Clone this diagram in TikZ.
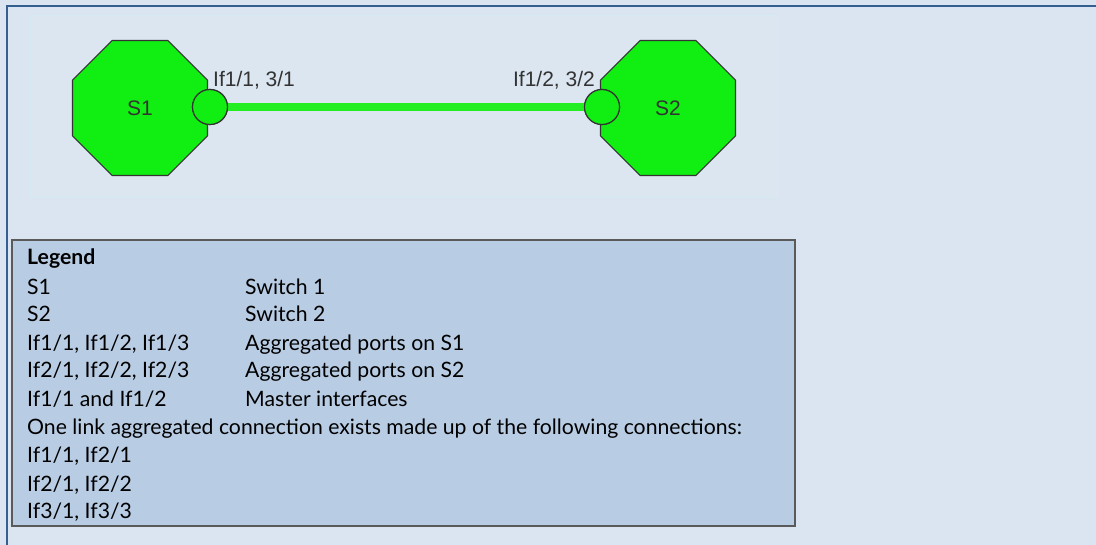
\documentclass[tikz,border=0pt]{standalone}
\usepackage{fontspec}
\setmainfont{Liberation Sans}
\newfontfamily\legendfont{Lato}
\usetikzlibrary{shapes.geometric}
\definecolor{pagebg}{HTML}{DBE5F1}
\definecolor{picbg}{HTML}{DCE6F1}
\definecolor{picline}{HTML}{D6EAF2}
\definecolor{framebl}{HTML}{365F91}
\definecolor{swgreen}{HTML}{11EE11}
\definecolor{linkgreen}{HTML}{22EE22}
\definecolor{legbg}{HTML}{B8CCE4}
\definecolor{legline}{HTML}{5A5A5A}
\definecolor{txtgray}{HTML}{333333}
\tikzset{
  switch/.style={regular polygon, regular polygon sides=8, minimum size=146pt,
    inner sep=0pt, fill=swgreen, draw=txtgray, line width=1.2pt,
    font=\fontsize{21}{21}\selectfont, text=txtgray},
  port/.style={circle, minimum size=35pt, inner sep=0pt, fill=swgreen,
    draw=txtgray, line width=1.2pt},
  portlbl/.style={font=\fontsize{21}{21}\selectfont, text=txtgray, inner sep=0pt},
  legtxt/.style={font=\legendfont\fontsize{21.2}{21}\selectfont, anchor=base west, inner sep=0pt}
}
\begin{document}
\begin{tikzpicture}[x=1pt,y=-1pt]
\useasboundingbox (0,0) rectangle (1096,545);
\fill[pagebg] (0,0) rectangle (1096,545);
% marco de la pagina
\draw[framebl, line width=1.5pt] (7,545) -- (7,6) -- (1096,6);

% zona del dibujo
\draw[picline, fill=picbg] (30,15) rectangle (777,197);

% switches
\node[switch] (s1) at (140,108) {S1};
\node[switch] (s2) at (668,108) {S2};

% puertos y enlace
\node[port] (p1) at (210,107) {};
\node[port] (p2) at (602,107) {};
\draw[linkgreen, line width=8pt] (p1.east) -- (p2.west);
\node[port] (p1) at (210,107) {};
\node[port] (p2) at (602,107) {};
\node[portlbl, anchor=base west] (l1) at (213,87) {If1/1, 3/1};
\node[portlbl, anchor=base east] (l2) at (595,87) {If1/2, 3/2};

% leyenda
\draw[legline, fill=legbg, line width=1.5pt] (12,240) rectangle (795,526);
\node[legtxt] (leg) at (27,265) {\bfseries Legend};
\node[legtxt] (k1) at (27,295) {S1};
\node[legtxt] (v1) at (245,295) {Switch 1};
\node[legtxt] (k2) at (27,322) {S2};
\node[legtxt] (v2) at (245,322) {Switch 2};
\node[legtxt] (k3) at (27,351) {If1/1, If1/2, If1/3};
\node[legtxt] (v3) at (245,351) {Aggregated ports on S1};
\node[legtxt] (k4) at (27,378) {If2/1, If2/2, If2/3};
\node[legtxt] (v4) at (245,378) {Aggregated ports on S2};
\node[legtxt] (k5) at (27,407) {If1/1 and If1/2};
\node[legtxt] (v5) at (245,407) {Master interfaces};
\node[legtxt] (k6) at (27,435) {One link aggregated connection exists made up of the following connections:};
\node[legtxt] (c1) at (27,463) {If1/1, If2/1};
\node[legtxt] (c2) at (27,491) {If2/1, If2/2};
\node[legtxt] (c3) at (27,518) {If3/1, If3/3};
\end{tikzpicture}
\end{document}
